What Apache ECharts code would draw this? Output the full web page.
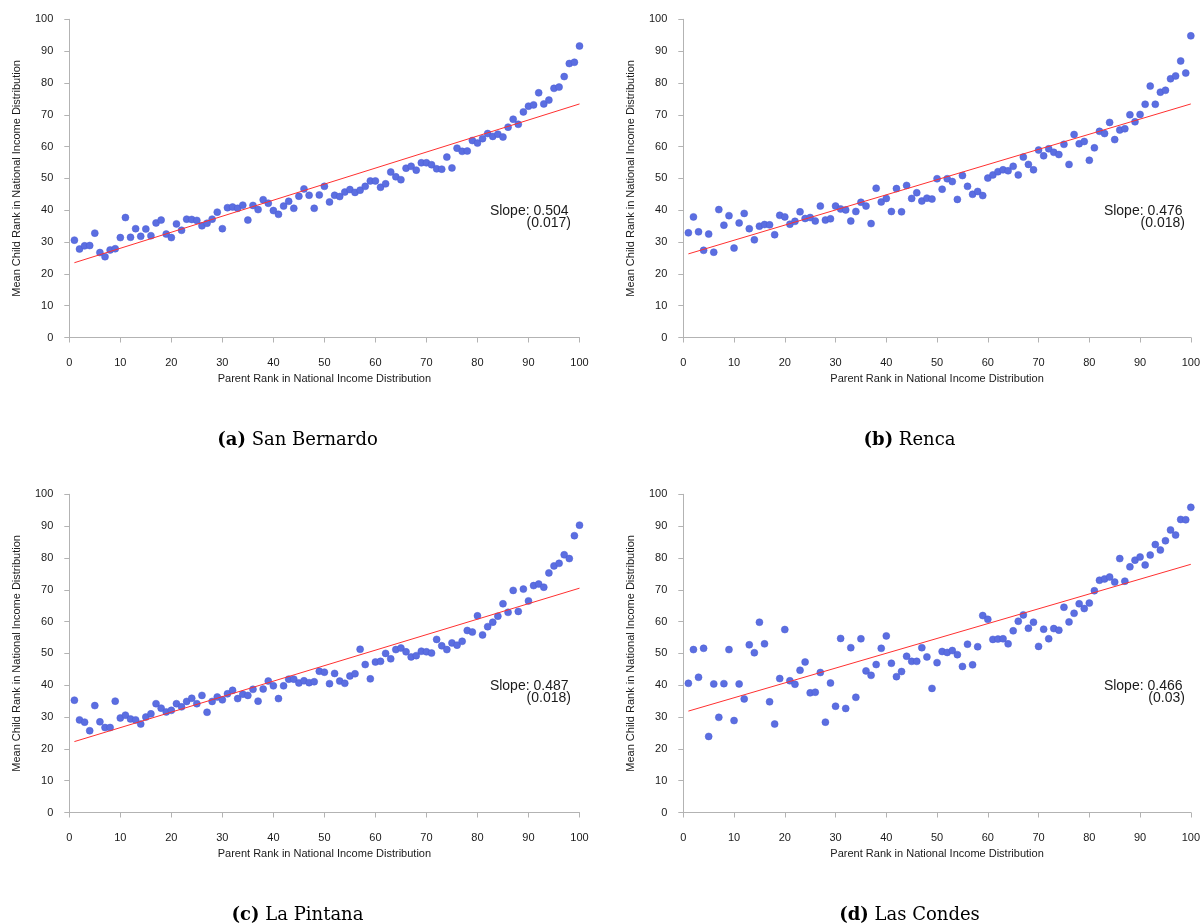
<!DOCTYPE html>
<html>
<head>
<meta charset="utf-8">
<script src="https://cdn.jsdelivr.net/npm/echarts@6/dist/echarts.min.js"></script>
<style>
  html, body { margin: 0; padding: 0; background: #fff; }
  #chart { width: 1203px; height: 924px; }
</style>
</head>
<body>
<div id="chart"></div>
<script>
// Parent income rank (percentile) shared by all four communes
const parentRank = [
  1, 2, 3, 4, 5, 6, 7, 8, 9, 10, 11, 12, 13, 14, 15, 16, 17, 18, 19, 20,
  21, 22, 23, 24, 25, 26, 27, 28, 29, 30, 31, 32, 33, 34, 35, 36, 37, 38, 39, 40,
  41, 42, 43, 44, 45, 46, 47, 48, 49, 50, 51, 52, 53, 54, 55, 56, 57, 58, 59, 60,
  61, 62, 63, 64, 65, 66, 67, 68, 69, 70, 71, 72, 73, 74, 75, 76, 77, 78, 79, 80,
  81, 82, 83, 84, 85, 86, 87, 88, 89, 90, 91, 92, 93, 94, 95, 96, 97, 98, 99, 100
];

// Mean child rank by parent rank, one list per commune
const sanBernardo = [
  30.6, 27.8, 28.8, 28.9, 32.8, 26.7, 25.4, 27.5, 27.9, 31.4,
  37.7, 31.5, 34.2, 31.8, 34.1, 32.0, 36.0, 36.9, 32.5, 31.4,
  35.7, 33.7, 37.2, 37.1, 36.8, 35.1, 35.9, 37.2, 39.4, 34.2,
  40.8, 41.0, 40.6, 41.6, 36.9, 41.5, 40.2, 43.3, 42.2, 39.9,
  38.7, 41.3, 42.8, 40.6, 44.4, 46.7, 44.7, 40.6, 44.8, 47.5,
  42.6, 44.7, 44.3, 45.7, 46.5, 45.6, 46.3, 47.5, 49.2, 49.2,
  47.2, 48.3, 52.0, 50.5, 49.6, 53.2, 53.8, 52.6, 54.9, 54.9,
  54.3, 53.0, 52.9, 56.7, 53.3, 59.5, 58.5, 58.6, 61.9, 61.1,
  62.5, 64.1, 63.2, 63.9, 63.0, 66.1, 68.6, 67.0, 70.9, 72.7,
  73.1, 76.9, 73.4, 74.6, 78.3, 78.7, 82.0, 86.1, 86.5, 91.6
];
const renca = [
  32.9, 37.9, 33.2, 27.4, 32.5, 26.8, 40.2, 35.3, 38.3, 28.1,
  36.0, 39.0, 34.2, 30.7, 35.0, 35.5, 35.4, 32.3, 38.4, 37.9,
  35.6, 36.5, 39.5, 37.4, 37.7, 36.6, 41.3, 36.9, 37.3, 41.3,
  40.4, 40.1, 36.6, 39.6, 42.5, 41.3, 35.8, 46.9, 42.6, 43.7,
  39.6, 46.8, 39.5, 47.8, 43.7, 45.5, 42.9, 43.8, 43.5, 49.9,
  46.6, 49.9, 49.0, 43.4, 50.9, 47.5, 45.0, 45.9, 44.6, 50.1,
  51.1, 52.1, 52.7, 52.4, 53.8, 51.1, 56.7, 54.4, 52.7, 58.9,
  57.1, 59.3, 58.2, 57.5, 60.7, 54.4, 63.8, 60.9, 61.6, 55.7,
  59.6, 64.8, 64.1, 67.6, 62.2, 65.2, 65.6, 70.0, 67.8, 70.1,
  73.3, 79.0, 73.3, 77.1, 77.7, 81.3, 82.2, 86.9, 83.1, 94.8
];
const laPintana = [
  35.3, 29.1, 28.4, 25.7, 33.6, 28.5, 26.7, 26.7, 35.0, 29.7,
  30.6, 29.4, 29.1, 27.8, 30.0, 31.0, 34.2, 32.8, 31.6, 32.1,
  34.2, 33.2, 34.9, 35.9, 34.2, 36.8, 31.5, 34.9, 36.3, 35.4,
  37.3, 38.4, 35.8, 37.2, 36.8, 38.7, 35.0, 38.8, 41.3, 39.8,
  35.8, 39.8, 41.9, 41.9, 40.7, 41.4, 40.8, 41.1, 44.4, 44.1,
  40.5, 43.7, 41.3, 40.6, 42.9, 43.6, 51.3, 46.5, 42.0, 47.3,
  47.5, 50.0, 48.3, 51.2, 51.7, 50.5, 48.9, 49.3, 50.7, 50.5,
  50.1, 54.4, 52.4, 51.2, 53.3, 52.6, 53.8, 57.2, 56.7, 61.8,
  55.8, 58.4, 59.8, 61.7, 65.6, 62.9, 69.8, 63.2, 70.2, 66.5,
  71.3, 71.8, 70.8, 75.3, 77.5, 78.3, 81.0, 79.8, 87.0, 90.3
];
const lasCondes = [
  40.6, 51.2, 42.5, 51.6, 23.9, 40.4, 29.9, 40.5, 51.2, 28.9,
  40.4, 35.7, 52.7, 50.2, 59.8, 53.0, 34.8, 27.8, 42.1, 57.5,
  41.4, 40.3, 44.7, 47.3, 37.6, 37.8, 44.0, 28.4, 40.7, 33.4,
  54.7, 32.7, 51.8, 36.2, 54.6, 44.5, 43.1, 46.5, 51.6, 55.5,
  46.9, 42.7, 44.3, 49.1, 47.5, 47.5, 51.8, 48.9, 39.0, 47.1,
  50.6, 50.3, 50.9, 49.6, 45.9, 52.9, 46.4, 52.1, 61.9, 60.7,
  54.4, 54.5, 54.6, 53.0, 57.1, 60.1, 62.1, 57.9, 59.8, 52.2,
  57.6, 54.6, 57.8, 57.3, 64.5, 59.9, 62.6, 65.6, 64.1, 65.8,
  69.7, 73.0, 73.4, 74.0, 72.4, 79.8, 72.7, 77.2, 79.3, 80.3,
  77.8, 80.9, 84.2, 82.5, 85.4, 88.8, 87.2, 92.1, 92.0, 95.9
];

// Fitted rank-rank regression: slope (standard error) and intercept
const slopes     = [0.504, 0.476, 0.487, 0.466];
const slopeSE    = ['0.017', '0.018', '0.018', '0.03'];
const intercepts = [23.0, 25.8, 21.8, 31.4];

const panelNames  = ['San Bernardo', 'Renca', 'La Pintana', 'Las Condes'];
const panelLetter = ['a', 'b', 'c', 'd'];
const panelValues = [sanBernardo, renca, laPintana, lasCondes];

const yTicks = [0, 10, 20, 30, 40, 50, 60, 70, 80, 90, 100];
const xTicks = [0, 10, 20, 30, 40, 50, 60, 70, 80, 90, 100];

const FONT = '"Liberation Sans", Arial, Helvetica, sans-serif';
const SERIF = '"DejaVu Serif", "Liberation Serif", serif';
const AXIS_GRAY = '#b3b3b3';
const TEXT = '#1a1a1a';
const DOT = '#5b6ee1';

// Panel frames: plot-area origin for each of the 2x2 panels
const frames = [
  { left: 69.3,  top: 19.3 },
  { left: 683.3, top: 19.3 },
  { left: 69.3,  top: 494.3 },
  { left: 683.3, top: 494.3 }
];
const PLOT_W = 510.2;
const PLOT_H = 318.2;

const grids = [], xAxes = [], yAxes = [], series = [], graphics = [];

frames.forEach(function (f, i) {
  grids.push({ left: f.left, top: f.top, width: PLOT_W, height: PLOT_H, containLabel: false });

  xAxes.push({
    type: 'value', gridIndex: i, min: xTicks[0], max: xTicks[xTicks.length - 1],
    interval: xTicks[1] - xTicks[0], offset: 10.5,
    name: 'Parent Rank in National Income Distribution',
    nameLocation: 'middle', nameGap: 25,
    nameTextStyle: { fontFamily: FONT, fontSize: 11, color: TEXT },
    axisLine: { show: true, lineStyle: { color: AXIS_GRAY, width: 1 } },
    axisTick: { show: true, length: 5, lineStyle: { color: AXIS_GRAY } },
    axisLabel: { fontFamily: FONT, fontSize: 11, color: TEXT, margin: 9 },
    splitLine: { show: false }
  });

  yAxes.push({
    type: 'value', gridIndex: i, min: yTicks[0], max: yTicks[yTicks.length - 1],
    interval: yTicks[1] - yTicks[0], offset: 9,
    name: 'Mean Child Rank in National Income Distribution',
    nameLocation: 'middle', nameGap: 38, nameRotate: 90,
    nameTextStyle: { fontFamily: FONT, fontSize: 11, color: TEXT },
    axisLine: { show: true, lineStyle: { color: AXIS_GRAY, width: 1 } },
    axisTick: { show: true, length: 5, lineStyle: { color: AXIS_GRAY } },
    axisLabel: { fontFamily: FONT, fontSize: 11, color: TEXT, margin: 7 },
    splitLine: { show: false }
  });

  const vals = panelValues[i];
  series.push({
    type: 'scatter', xAxisIndex: i, yAxisIndex: i,
    data: parentRank.map(function (r, k) { return [r, vals[k]]; }),
    symbol: 'circle', symbolSize: 7,
    itemStyle: { color: DOT, borderColor: '#4a5dd4', borderWidth: 0.5, opacity: 1 },
    emphasis: { disabled: true },
    z: 2
  });

  const x0 = parentRank[0], x1 = parentRank[parentRank.length - 1];
  series.push({
    type: 'line', xAxisIndex: i, yAxisIndex: i,
    data: [[x0, intercepts[i] + slopes[i] * x0], [x1, intercepts[i] + slopes[i] * x1]],
    symbol: 'none', silent: true,
    lineStyle: { color: '#ff3030', width: 1 },
    z: 3
  });

  // Slope annotation, right-aligned near the lower right of each plot
  const rx = f.left + PLOT_W - 11;
  graphics.push({
    type: 'text', z: 10,
    style: { text: 'Slope: ' + slopes[i].toFixed(3), x: rx, y: f.top + 192, align: 'right',
             verticalAlign: 'middle', font: '14px ' + FONT, fill: TEXT }
  });
  graphics.push({
    type: 'text', z: 10,
    style: { text: '(' + slopeSE[i] + ')', x: rx + 2.4, y: f.top + 204.3, align: 'right',
             verticalAlign: 'middle', font: '14px ' + FONT, fill: TEXT }
  });

  // Sub-figure caption
  const cx = (i % 2 === 0) ? 297.5 : 909.5;
  graphics.push({
    type: 'text', z: 10,
    style: {
      text: '{b|(' + panelLetter[i] + ')} {n|' + panelNames[i] + '}',
      x: cx, y: f.top + 421, align: 'center', verticalAlign: 'middle',
      rich: {
        b: { font: 'bold 18px ' + SERIF, fill: '#000' },
        n: { font: '18px ' + SERIF, fill: '#000' }
      },
      font: '18px ' + SERIF, fill: '#000'
    }
  });
});

const chart = echarts.init(document.getElementById('chart'), null, { renderer: 'canvas' });
chart.setOption({
  animation: false,
  backgroundColor: '#ffffff',
  grid: grids,
  xAxis: xAxes,
  yAxis: yAxes,
  series: series,
  graphic: graphics
});
</script>
</body>
</html>
